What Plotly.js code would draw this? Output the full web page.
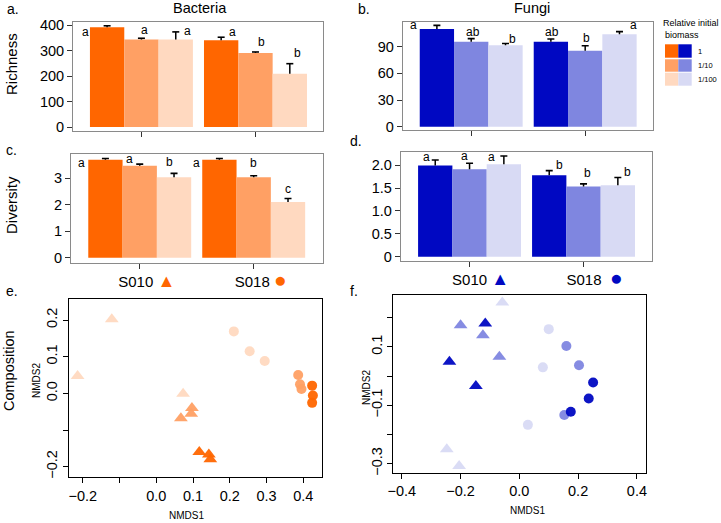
<!DOCTYPE html>
<html><head><meta charset="utf-8">
<script src="https://cdn.plot.ly/plotly-3.0.1.min.js"></script>
<style>html,body{margin:0;padding:0;background:#fff}#chart{width:721px;height:523px}</style>
</head><body><div id="chart"></div>
<script>
// ---------- data ----------
const sites = ["S010", "S018"];
const levels = ["1", "1/10", "1/100"];

// bar values: one row per relative initial biomass level (1, 1/10, 1/100), columns = sites
const bactRich    = [[392, 341], [344, 291], [344, 209]];
const bactRichErr = [[6, 12], [5, 4], [30, 40]];
const bactRichSig = [["a", "a"], ["a", "b"], ["a", "b"]];

const fungRich    = [[110, 95.6], [95.6, 85.5], [91.6, 104]];
const fungRichErr = [[4, 3], [3.5, 5.5], [2, 3]];
const fungRichSig = [["a", "ab"], ["ab", "b"], ["b", "a"]];

const bactDiv    = [[3.69, 3.69], [3.47, 3.03], [3.03, 2.10]];
const bactDivErr = [[0.05, 0.05], [0.06, 0.06], [0.15, 0.13]];
const bactDivSig = [["a", "a"], ["a", "b"], ["b", "c"]];

const fungDiv    = [[1.99, 1.78], [1.91, 1.53], [2.02, 1.56]];
const fungDivErr = [[0.12, 0.10], [0.13, 0.06], [0.18, 0.17]];
const fungDivSig = [["a", "b"], ["a", "b"], ["a", "b"]];

// NMDS ordination (S010 = triangles, S018 = circles), per biomass level
const bactTriX = [[0.117, 0.143, 0.147], [0.097, 0.095, 0.067], [-0.121, -0.214, 0.073]];
const bactTriY = [[-0.160, -0.167, -0.180], [-0.040, -0.056, -0.068], [0.202, 0.047, -0.001]];
const bactCirX = [[0.424, 0.426, 0.424], [0.386, 0.391, 0.395], [0.211, 0.254, 0.295]];
const bactCirY = [[0.021, -0.006, -0.026], [0.050, 0.025, 0.012], [0.169, 0.115, 0.088]];

const fungTriX = [[-0.116, -0.238, -0.148], [-0.200, -0.124, -0.068], [-0.058, -0.247, -0.205]];
const fungTriY = [[0.180, 0.049, -0.034], [0.174, 0.140, 0.066], [0.252, -0.251, -0.308]];
const fungCirX = [[0.251, 0.236, 0.175], [0.160, 0.203, 0.153], [0.100, 0.080, 0.029]];
const fungCirY = [[-0.022, -0.077, -0.122], [0.103, 0.037, -0.133], [0.161, 0.030, -0.167]];

// ---------- styles ----------
const orange = ["#FF6600", "#FFA064", "#FFD9C0"];
const blue   = ["#0008C2", "#7F86E0", "#D8DAF4"];
const FONT = "Liberation Sans, Arial, Helvetica, sans-serif";
const W = 721, H = 523;
const BARGAP = 0.097;
const barW = (1 - BARGAP) / 3;
function dX(a, b) { return [a / W, b / W]; }
function dY(top, bot) { return [1 - bot / H, 1 - top / H]; }

const traces = [];
const annotations = [];
const shapes = [];

// letter offsets (pixels) relative to the top of each error bar
const shiftA = [[[-22, -6], [11, 5]], [[3, 8], [6, 10]], [[11.5, 1], [7.5, 11]]];
const shiftB = [[[-23.5, 0], [1, 7]], [[1.5, 7], [1.5, 8]], [[7, 5], [14, 7]]];
const shiftC = [[[-24, -4], [-23, -4]], [[-10, 5], [0, 13]], [[-5, 11], [0, 10]]];
const shiftD = [[[-8.5, 3], [10, 6]], [[-5, 7], [3.5, 11]], [[-12, -1], [10, 5]]];

function barPanel(n, vals, errs, sigs, colors, shifts) {
  for (let t = 0; t < 3; t++) {
    traces.push({
      type: "bar", x: [0, 1], y: vals[t], name: levels[t],
      xaxis: "x" + n, yaxis: "y" + n, showlegend: false,
      marker: { color: colors[t], line: { width: 0 } },
      error_y: { type: "data", symmetric: false, array: errs[t], arrayminus: [0, 0],
                 color: "#000", thickness: 1.5, width: 0 }
    });
  }
  // error-bar caps (top only) and significance letters
  for (let t = 0; t < 3; t++) {
    const cx = [0, 1].map(g => g + (t - 1) * barW);
    const cy = [0, 1].map(g => vals[t][g] + errs[t][g]);
    traces.push({ type: "scatter", mode: "markers", x: cx, y: cy, xaxis: "x" + n, yaxis: "y" + n,
      showlegend: false, marker: { symbol: "line-ew", size: 5, line: { width: 1.6, color: "#000" } } });
    for (let g = 0; g < 2; g++) {
      annotations.push({
        xref: "x" + n, yref: "y" + n, x: cx[g], y: cy[g],
        xshift: shifts[t][g][0], yshift: shifts[t][g][1],
        text: sigs[t][g], showarrow: false, xanchor: "center", yanchor: "middle",
        font: { family: FONT, size: 12, color: "#000" }
      });
    }
  }
}
barPanel("", bactRich, bactRichErr, bactRichSig, orange, shiftA);
barPanel("2", fungRich, fungRichErr, fungRichSig, blue, shiftB);
barPanel("3", bactDiv, bactDivErr, bactDivSig, orange, shiftC);
barPanel("4", fungDiv, fungDivErr, fungDivSig, blue, shiftD);

function scatterPanel(n, tx, ty, cx, cy, colors) {
  for (let t = 2; t >= 0; t--) {
    traces.push({ type: "scatter", mode: "markers", x: tx[t], y: ty[t], xaxis: "x" + n, yaxis: "y" + n,
      showlegend: false, marker: { symbol: "triangle-up", size: 12, color: colors[t], opacity: 0.95 } });
    traces.push({ type: "scatter", mode: "markers", x: cx[t], y: cy[t], xaxis: "x" + n, yaxis: "y" + n,
      showlegend: false, marker: { symbol: "circle", size: 10, color: colors[t], opacity: 0.95 } });
  }
}
scatterPanel("5", bactTriX, bactTriY, bactCirX, bactCirY, orange);
scatterPanel("6", fungTriX, fungTriY, fungCirX, fungCirY, blue);

// ---------- axes ----------
const tickFont = { family: FONT, size: 14.5, color: "#000" };
function barX(dom, rng, labels, anchor, shift) {
  return { domain: dom, range: rng, anchor: anchor, tickvals: [0, 1],
    ticktext: labels, showticklabels: !!labels, ticks: "outside", ticklen: 5, tickcolor: "#333",
    showline: true, mirror: true, linecolor: "#8a8a8a", linewidth: 1, showgrid: false, zeroline: false,
    tickfont: { family: FONT, size: 15, color: "#000" }, ticklabelshift: shift || 0 };
}
function barY(dom, rng, vals, anchor) {
  return { domain: dom, range: rng, anchor: anchor, tickvals: vals, ticks: "outside", ticklen: 5,
    tickcolor: "#333", showline: true, mirror: true, linecolor: "#8a8a8a", linewidth: 1,
    showgrid: false, zeroline: false, tickfont: tickFont };
}
function scX(dom, rng, vals, text, anchor) {
  return { domain: dom, range: rng, anchor: anchor, tickvals: vals, ticktext: text, ticks: "outside",
    ticklen: 5, tickcolor: "#000", showline: true, mirror: true, linecolor: "#000", linewidth: 1,
    showgrid: false, zeroline: false, tickfont: tickFont };
}
function scY(dom, rng, vals, text, anchor) {
  return { domain: dom, range: rng, anchor: anchor, tickvals: vals, ticktext: text, ticks: "outside",
    ticklen: 5, tickcolor: "#000", showline: true, mirror: true, linecolor: "#000", linewidth: 1,
    showgrid: false, zeroline: false, tickfont: tickFont, tickangle: -90 };
}
function sym(ch, col, size) { return "<span style='color:" + col + ";font-size:" + size + "px'>" + ch + "</span>"; }
const triO = "S010 " + sym("▲", orange[0], 18);
const cirO = "S018 " + sym("●", orange[0], 21);
const triB = "S010 " + sym("▲", blue[0], 18);
const cirB = "S018  " + sym("●", blue[0], 21);

// ---------- text labels ----------
function txt(x, y, s, size, opts) {
  annotations.push(Object.assign({ xref: "paper", yref: "paper", x: x / W, y: 1 - y / H, text: s,
    showarrow: false, xanchor: "center", yanchor: "middle",
    font: { family: FONT, size: size, color: "#000" } }, opts || {}));
}
txt(5, 9, "a.", 14, { xanchor: "left" });
txt(356, 9, "b.", 14, { xanchor: "left" });
txt(4, 150, "c.", 14, { xanchor: "left" });
txt(348, 141, "d.", 14, { xanchor: "left" });
txt(4, 291, "e.", 14, { xanchor: "left" });
txt(348, 291, "f.", 14, { xanchor: "left" });
txt(200, 8, "Bacteria", 14.5);
txt(532, 8, "Fungi", 14.5);
txt(11, 64, "Richness", 15, { textangle: -90 });
txt(11, 205, "Diversity", 15, { textangle: -90 });
txt(9, 371, "Composition", 14.5, { textangle: -90 });
txt(36, 381, "NMDS2", 10, { textangle: -90 });
txt(186, 515, "NMDS1", 10);
txt(366, 388, "NMDS2", 10, { textangle: -90 });
txt(527, 510, "NMDS1", 10);

// legend
txt(661, 23, "Relative initial", 9, { xanchor: "left" });
txt(663, 35, "biomass", 9, { xanchor: "left" });
const rows = [[44.3, 57.7], [59.3, 71.7], [72.7, 85.7]];
for (let i = 0; i < 3; i++) {
  shapes.push({ type: "rect", xref: "paper", yref: "paper", x0: 665 / W, x1: 678.3 / W,
    y0: 1 - rows[i][1] / H, y1: 1 - rows[i][0] / H, fillcolor: orange[i], line: { width: 0 } });
  shapes.push({ type: "rect", xref: "paper", yref: "paper", x0: 678.3 / W, x1: 691.7 / W,
    y0: 1 - rows[i][1] / H, y1: 1 - rows[i][0] / H, fillcolor: blue[i], line: { width: 0 } });
  txt(696, (rows[i][0] + rows[i][1]) / 2, levels[i], 7.5, { xanchor: "left" });
}

const layout = {
  width: W, height: H, margin: { l: 0, r: 0, t: 0, b: 0 },
  paper_bgcolor: "#fff", plot_bgcolor: "#fff",
  barmode: "group", bargap: BARGAP, bargroupgap: 0,
  font: { family: FONT, color: "#000" },
  xaxis:  barX(dX(73, 323), [-0.6, 1.592], null, "y"),
  yaxis:  barY(dY(22, 131), [-15.7, 412.9], [0, 100, 200, 300, 400], "x"),
  xaxis2: barX(dX(402.7, 653), [-0.601, 1.595], null, "y2"),
  yaxis2: barY(dY(22, 130), [-3.7, 117.8], [0, 30, 60, 90], "x2"),
  xaxis3: barX(dX(71, 323), [-0.603, 1.608], [triO, cirO], "y3", 7),
  yaxis3: barY(dY(154, 263.3), [-0.21, 3.91], [0, 1, 2, 3], "x3"),
  xaxis4: barX(dX(400.7, 651.7), [-0.604, 1.598], [triB, cirB], "y4", 11),
  yaxis4: Object.assign(barY(dY(152, 261), [-0.094, 2.286], [0, 0.5, 1, 1.5, 2], "x4"),
           { ticktext: ["0", "0.5", "1.0", "1.5", "2.0"] }),
  xaxis5: scX(dX(69, 321.7), [-0.2374, 0.450], [-0.2, -0.1, 0, 0.1, 0.2, 0.3, 0.4],
              ["−0.2", "", "0.0", "0.1", "0.2", "0.3", "0.4"], "y5"),
  yaxis5: scY(dY(299.3, 477.3), [-0.229, 0.2565], [-0.2, -0.1, 0, 0.1, 0.2],
              ["−0.2", "", "0.0", "0.1", "0.2"], "x5"),
  xaxis6: scX(dX(393.3, 646), [-0.429, 0.431], [-0.4, -0.2, 0, 0.2, 0.4],
              ["−0.4", "−0.2", "0.0", "0.2", "0.4"], "y6"),
  yaxis6: scY(dY(294.7, 472.7), [-0.331, 0.279], [-0.3, -0.2, -0.1, 0, 0.1, 0.2],
              ["−0.3", "", "−0.1", "", "0.1", ""], "x6"),
  annotations: annotations, shapes: shapes
};
Plotly.newPlot("chart", traces, layout, { displayModeBar: false, staticPlot: true });
</script></body></html>
